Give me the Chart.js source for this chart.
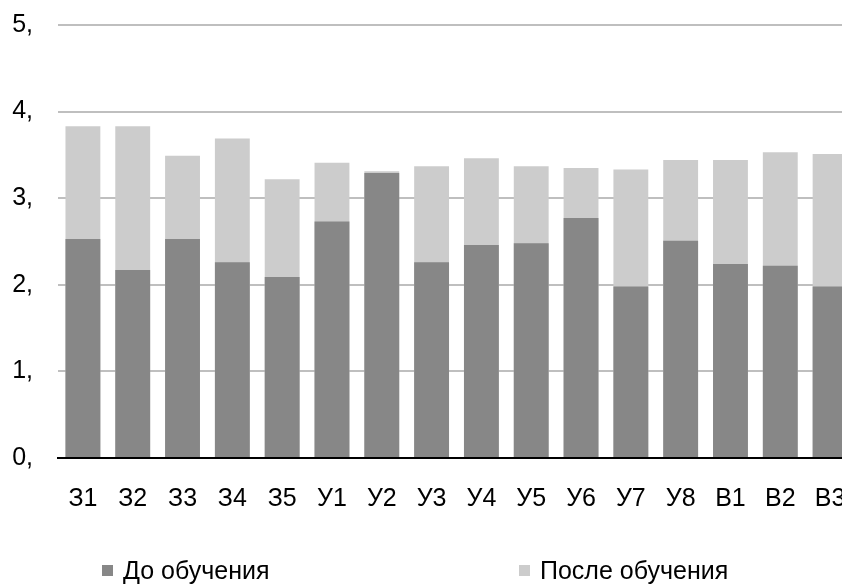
<!DOCTYPE html>
<html>
<head>
<meta charset="utf-8">
<script src="https://cdn.jsdelivr.net/npm/chart.js@4"></script>
<style>
  html, body { margin: 0; padding: 0; background: #fff; overflow: hidden; }
  #wrap { position: relative; width: 842px; height: 586px; overflow: hidden; }
  /* plot area runs past the right edge, like the cropped original */
  #box { position: absolute; left: 0; top: 0; width: 870px; height: 586px; }
  .legend-item {
    position: absolute; top: 555px; height: 30px;
    font-family: "Liberation Sans", Arial, sans-serif; font-size: 25px; color: #000;
    display: flex; align-items: center; white-space: nowrap;
  }
  .legend-item span.sw { display: inline-block; width: 11px; height: 11px; margin-right: 10px; }
</style>
</head>
<body>
<div id="wrap">
  <div id="box"><canvas id="chart"></canvas></div>
  <div class="legend-item" style="left:102px"><span class="sw" style="background:#878787"></span>До обучения</div>
  <div class="legend-item" style="left:519px"><span class="sw" style="background:#cccccc"></span>После обучения</div>
</div>
<script>
const categories = ['З1', 'З2', 'З3', 'З4', 'З5', 'У1', 'У2', 'У3', 'У4', 'У5', 'У6', 'У7', 'У8', 'В1', 'В2', 'В3'];
const beforeValues = [2.53, 2.17, 2.53, 2.26, 2.09, 2.73, 3.29, 2.26, 2.46, 2.48, 2.77, 1.98, 2.51, 2.24, 2.22, 1.98];
const afterValues = [3.83, 3.83, 3.49, 3.69, 3.22, 3.41, 3.31, 3.37, 3.46, 3.37, 3.35, 3.33, 3.44, 3.44, 3.53, 3.51];
const yTicks = [0, 1, 2, 3, 4, 5];

const font = { family: '"Liberation Sans", Arial, sans-serif', size: 25 };

new Chart(document.getElementById('chart'), {
    type: 'bar',
    data: {
        labels: categories,
        datasets: [
            {
                label: 'До обучения',
                data: beforeValues,
                backgroundColor: '#878787',
                grouped: false,
                barPercentage: 0.7,
                categoryPercentage: 1
            },
            {
                label: 'После обучения',
                data: afterValues,
                backgroundColor: '#cccccc',
                grouped: false,
                barPercentage: 0.7,
                categoryPercentage: 1
            }
        ]
    },
    options: {
        responsive: true,
        maintainAspectRatio: false,
        animation: false,
        layout: {
            padding: { top: 25, right: 15, bottom: 54, left: 0 }
        },
        plugins: {
            legend: { display: false },
            tooltip: { enabled: false }
        },
        scales: {
            x: {
                grid: { display: false },
                border: { display: true, color: '#000', width: 2 },
                ticks: { color: '#000', font: font, padding: 18, maxRotation: 0, autoSkip: false }
            },
            y: {
                min: 0,
                max: 5,
                afterFit: function (scale) {
                    // fixed axis width, no extra room for half labels
                    scale.width = 58;
                    scale.paddingTop = 0;
                    scale.paddingBottom = 0;
                },
                afterBuildTicks: function (scale) {
                    scale.ticks = yTicks.map(v => ({ value: v }));
                },
                grid: { color: '#bfbfbf', lineWidth: 2, drawTicks: false },
                border: { display: false },
                ticks: {
                    color: '#000',
                    font: font,
                    padding: 25,
                    callback: function (value) { return value + ','; }
                }
            }
        }
    }
});
</script>
</body>
</html>
